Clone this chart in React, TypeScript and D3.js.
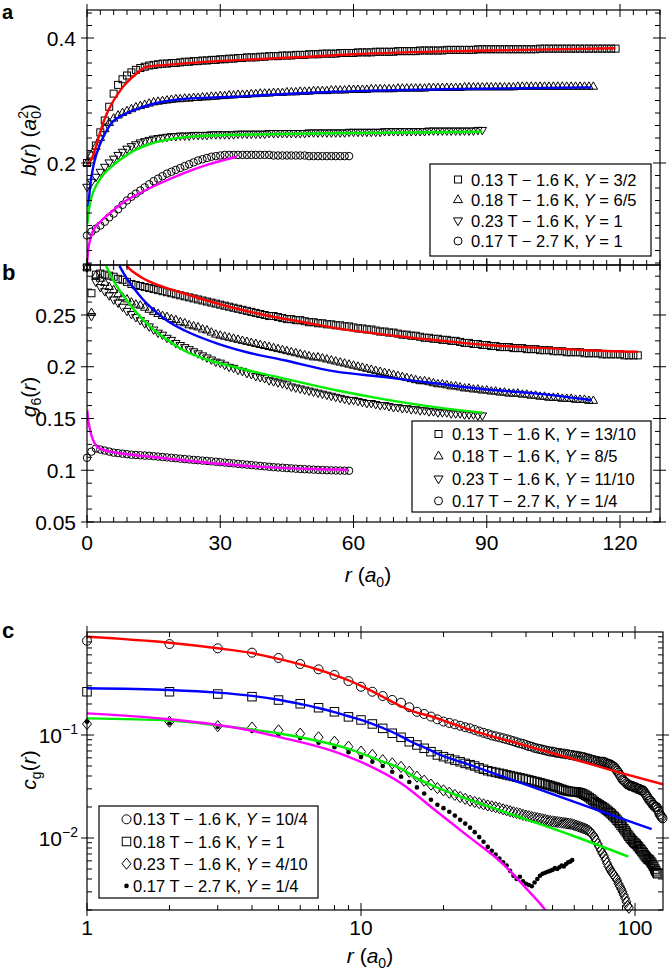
import React from "react";
import * as d3 from "d3";

const FONT = "'Liberation Sans', Arial, Helvetica, sans-serif";

// ---------- Panel a : b(r), r = 0,1,2,... ----------
const aSquares = [0.200,0.212,0.228,0.249,0.268,0.290,0.311,0.325,0.334,0.340,
0.345,0.349,0.352,0.354,0.356,0.357,0.358,0.359,0.359,0.360,
0.360,0.361,0.362,0.362,0.363,0.363,0.364,0.364,0.365,0.365,
0.366,0.366,0.367,0.367,0.368,0.368,0.369,0.369,0.369,0.370,
0.370,0.371,0.371,0.371,0.372,0.372,0.372,0.373,0.373,0.373,
0.374,0.374,0.374,0.375,0.375,0.375,0.375,0.376,0.376,0.376,
0.376,0.377,0.377,0.377,0.377,0.378,0.378,0.378,0.378,0.378,
0.379,0.379,0.379,0.379,0.379,0.380,0.380,0.380,0.380,0.380,
0.380,0.381,0.381,0.381,0.381,0.381,0.381,0.381,0.382,0.382,
0.382,0.382,0.382,0.382,0.382,0.382,0.382,0.382,0.382,0.382,
0.382,0.382,0.383,0.383,0.383,0.383,0.383,0.383,0.383,0.383,
0.383,0.383,0.383,0.383,0.383,0.383,0.383,0.383,0.383,0.383];
const aTriangles = [0.200,0.212,0.226,0.240,0.254,0.264,0.271,0.276,0.280,0.283,
0.286,0.289,0.291,0.293,0.295,0.297,0.298,0.299,0.300,0.301,
0.302,0.302,0.303,0.303,0.304,0.304,0.305,0.305,0.306,0.306,
0.307,0.307,0.308,0.308,0.309,0.309,0.309,0.310,0.310,0.311,
0.311,0.311,0.312,0.312,0.312,0.313,0.313,0.313,0.314,0.314,
0.314,0.315,0.315,0.315,0.315,0.316,0.316,0.316,0.316,0.317,
0.317,0.317,0.317,0.317,0.318,0.318,0.318,0.318,0.318,0.318,
0.319,0.319,0.319,0.319,0.319,0.319,0.319,0.320,0.320,0.320,
0.320,0.320,0.320,0.320,0.320,0.321,0.321,0.321,0.321,0.321,
0.321,0.321,0.321,0.321,0.321,0.321,0.321,0.322,0.322,0.322,
0.322,0.322,0.322,0.322,0.322,0.322,0.322,0.322,0.322,0.322,
0.322,0.322,0.322,0.322,0.322];
const aDownTriangles = [0.162,0.170,0.178,0.186,0.194,0.201,0.207,0.213,0.218,0.223,
0.227,0.230,0.233,0.235,0.237,0.239,0.240,0.241,0.242,0.243,
0.243,0.244,0.244,0.244,0.245,0.245,0.245,0.245,0.246,0.246,
0.246,0.246,0.246,0.246,0.247,0.247,0.247,0.247,0.247,0.247,
0.247,0.248,0.248,0.248,0.248,0.248,0.248,0.248,0.248,0.248,
0.249,0.249,0.249,0.249,0.249,0.249,0.249,0.249,0.249,0.250,
0.250,0.250,0.250,0.250,0.250,0.250,0.250,0.251,0.251,0.251,
0.251,0.251,0.251,0.251,0.251,0.251,0.251,0.252,0.252,0.252,
0.252,0.252,0.252,0.252,0.252,0.252,0.252,0.252,0.253,0.253];
const aCircles = [0.084,0.090,0.095,0.100,0.106,0.113,0.119,0.126,0.133,0.140,
0.146,0.151,0.156,0.161,0.166,0.171,0.175,0.179,0.183,0.186,
0.189,0.192,0.195,0.198,0.201,0.204,0.206,0.208,0.210,0.211,
0.212,0.213,0.213,0.213,0.213,0.213,0.213,0.213,0.213,0.213,
0.213,0.213,0.212,0.212,0.212,0.212,0.212,0.212,0.212,0.212,
0.211,0.211,0.211,0.211,0.211,0.211,0.211,0.211,0.211,0.211];
const aRedFit: [number, number][] = [[0.2,0.198],[1,0.206],[2,0.226],[3,0.250],[4,0.271],[5,0.287],[6,0.300],[7,0.311],[8,0.321],[9,0.329],[10,0.336],[11,0.342],[12,0.348],[13.4,0.354],[18,0.357],[25,0.361],[35,0.365],[50,0.370],[60,0.374],[90,0.380],[119,0.3835]];
const aBlueFit: [number, number][] = [[0.3,0.130],[0.7,0.162],[1.4,0.194],[2.2,0.2155],[3.7,0.242],[5.2,0.261],[8.2,0.277],[12.7,0.290],[21,0.302],[33,0.306],[55.8,0.314],[80,0.318],[113.5,0.321]];
const aGreenFit: [number, number][] = [[0.1,0.103],[0.5,0.128],[1,0.145],[2,0.163],[3,0.175],[5.2,0.192],[8,0.208],[10.4,0.219],[14,0.230],[19.4,0.239],[25,0.243],[40,0.246],[60,0.248],[89,0.250]];
const aMagentaFit: [number, number][] = [[0,0.038],[0.3,0.062],[0.7,0.077],[1.4,0.092],[3,0.106],[5.2,0.120],[8,0.136],[12,0.152],[16,0.166],[21.7,0.1835],[27,0.197],[33.7,0.210]];

// ---------- Panel b : g6(r), r = 0,1,2,... ----------
const bSquares = [0.296,0.271,
0.289,0.290,0.289,0.288,0.287,0.285,0.284,0.282,0.280,
0.279,0.278,0.277,0.276,0.275,0.274,0.273,0.272,0.271,0.270,
0.269,0.268,0.267,0.266,0.265,0.264,0.263,0.262,0.261,0.260,
0.259,0.258,0.257,0.256,0.255,0.254,0.253,0.252,0.251,0.250,
0.249,0.249,0.248,0.247,0.246,0.246,0.245,0.245,0.244,0.243,
0.243,0.242,0.242,0.241,0.241,0.240,0.240,0.239,0.239,0.238,
0.237,0.237,0.236,0.236,0.235,0.234,0.234,0.233,0.233,0.232,
0.231,0.231,0.230,0.230,0.229,0.228,0.228,0.227,0.227,0.226,
0.226,0.225,0.225,0.224,0.223,0.223,0.222,0.222,0.221,0.221,
0.220,0.220,0.219,0.219,0.219,0.218,0.218,0.218,0.217,0.217,
0.217,0.216,0.216,0.216,0.215,0.215,0.215,0.214,0.214,0.214,
0.214,0.213,0.213,0.213,0.213,0.212,0.212,0.212,0.212,0.212,
0.211,0.211,0.211,0.211];
const bTriangles = [0.296,0.252,
0.288,0.285,0.281,0.277,0.274,0.270,0.267,0.265,0.262,
0.260,0.259,0.257,0.255,0.253,0.251,0.249,0.248,0.246,0.245,
0.243,0.242,0.240,0.239,0.238,0.236,0.235,0.233,0.231,0.230,
0.229,0.228,0.227,0.226,0.225,0.224,0.223,0.222,0.221,0.220,
0.219,0.218,0.217,0.216,0.215,0.214,0.213,0.212,0.211,0.210,
0.209,0.209,0.208,0.207,0.206,0.205,0.204,0.203,0.202,0.201,
0.200,0.199,0.198,0.197,0.196,0.195,0.194,0.193,0.192,0.191,
0.190,0.189,0.188,0.187,0.186,0.186,0.185,0.184,0.183,0.183,
0.182,0.181,0.181,0.180,0.179,0.179,0.178,0.178,0.177,0.177,
0.176,0.176,0.175,0.175,0.174,0.174,0.174,0.173,0.173,0.172,
0.172,0.171,0.171,0.170,0.170,0.170,0.169,0.169,0.169,0.168,
0.168,0.168,0.167,0.167];
const bDownTriangles = [0.296,0.249,
0.282,0.277,0.273,0.269,0.265,0.262,0.258,0.254,0.251,
0.248,0.245,0.242,0.239,0.236,0.233,0.231,0.228,0.226,0.223,
0.221,0.219,0.217,0.215,0.213,0.211,0.209,0.207,0.205,0.204,
0.202,0.200,0.199,0.197,0.196,0.194,0.193,0.191,0.190,0.189,
0.187,0.186,0.185,0.184,0.183,0.181,0.180,0.179,0.178,0.177,
0.176,0.175,0.174,0.173,0.172,0.171,0.170,0.169,0.168,0.168,
0.167,0.166,0.165,0.165,0.164,0.163,0.163,0.162,0.161,0.161,
0.160,0.160,0.159,0.159,0.158,0.158,0.157,0.157,0.156,0.156,
0.156,0.155,0.155,0.155,0.154,0.154,0.154,0.153,0.153];
const bCircles = [0.112,0.118,0.121,0.120,0.119,0.118,0.117,0.1165,0.116,0.1155,
0.115,0.1148,0.1145,0.1142,0.114,0.1136,0.1132,0.1128,0.1124,0.112,
0.1116,0.1112,0.1108,0.1104,0.110,0.1097,0.1093,0.109,0.1086,0.1082,
0.1078,0.1074,0.107,0.1066,0.1062,0.1058,0.1054,0.105,0.1046,0.1042,
0.1038,0.1034,0.103,0.1027,0.1024,0.1021,0.1018,0.1015,0.1012,0.101,
0.1008,0.1006,0.1004,0.1002,0.100,0.0999,0.0998,0.0997,0.0996,0.0995];
const bRedFit: [number, number][] = [[8.9,0.2975],[10,0.293],[12,0.287],[14.2,0.282],[18,0.276],[21.7,0.271],[27,0.264],[32.9,0.257],[40,0.250],[50,0.242],[55.8,0.2375],[67,0.231],[78.3,0.2258],[90,0.221],[100.8,0.2185],[112,0.216],[124,0.2145]];
const bBlueFit: [number, number][] = [[7.3,0.2975],[9,0.285],[10.5,0.276],[12.7,0.2645],[15,0.255],[17.9,0.245],[22,0.235],[29.2,0.2226],[36,0.214],[44.2,0.2065],[55.8,0.1955],[67,0.190],[78.3,0.184],[90,0.178],[100.8,0.1743],[113.5,0.1678]];
const bGreenFit: [number, number][] = [[4.3,0.2975],[6,0.283],[7,0.276],[8.9,0.2645],[11,0.253],[14.2,0.2387],[18,0.226],[21.7,0.216],[27,0.207],[33,0.200],[44.2,0.1887],[55.8,0.1775],[67,0.1685],[78.3,0.161],[89,0.1555]];
const bMagentaFit: [number, number][] = [[0.05,0.158],[0.3,0.148],[0.7,0.139],[1.2,0.131],[2.2,0.123],[3.5,0.120],[5.2,0.118],[8,0.116],[14.2,0.113],[25.4,0.108],[40.4,0.103],[55.8,0.1007],[58.8,0.1003]];

// ---------- Panel c : cg(r), r = 1,2,3,... ----------
const cCircles = [0.823,0.764,0.695,0.630,0.560,0.489,0.434,0.383,0.334,0.294,
0.263,0.239,0.219,0.206,0.186,0.168,0.160,0.151,0.142,0.135,
0.131,0.127,0.123,0.119,0.116,0.112,0.108,0.105,0.102,0.099,
0.097,0.095,0.093,0.091,0.089,0.087,0.085,0.083,0.082,0.080,
0.078,0.077,0.075,0.074,0.073,0.072,0.071,0.070,0.069,0.069,
0.068,0.067,0.067,0.066,0.066,0.065,0.065,0.064,0.064,0.063,
0.063,0.062,0.062,0.061,0.061,0.060,0.059,0.059,0.058,0.057,
0.057,0.056,0.056,0.055,0.055,0.055,0.055,0.054,0.053,0.0525,
0.052,0.051,0.050,0.049,0.047,0.045,0.043,0.041,0.039,0.037,
0.036,0.035,0.034,0.033,0.033,0.032,0.032,0.032,0.031,0.031,
0.031,0.030,0.030,0.030,0.029,0.029,0.029,0.028,0.027,0.026,
0.025,0.024,0.023,0.023,0.022,0.021,0.021,0.020,0.020,0.020,
0.019,0.018,0.017,0.0165,0.016,0.0155];
const cSquares = [0.263,0.263,0.250,0.2355,0.2185,0.201,0.184,0.168,0.150,0.140,
0.128,0.116,0.104,0.095,0.086,0.080,0.0743,0.0689,0.064,0.0616,
0.059,0.057,0.055,0.053,0.0515,0.050,0.048,0.0465,0.045,0.0441,
0.0433,0.0425,0.0418,0.041,0.0403,0.0396,0.039,0.0384,0.0378,0.0372,
0.0366,0.036,0.0354,0.0349,0.0344,0.0338,0.0333,0.0328,0.0323,0.0318,
0.0313,0.0308,0.0302,0.0297,0.0292,0.0288,0.0285,0.0283,0.0282,0.0281,
0.028,0.0278,0.0275,0.0271,0.0266,0.026,0.0254,0.0247,0.024,0.0233,
0.0226,0.022,0.0215,0.021,0.0205,0.0201,0.0196,0.0191,0.0186,0.0181,
0.0176,0.0171,0.0165,0.016,0.0155,0.0149,0.0144,0.0139,0.0133,0.0128,
0.0123,0.0118,0.0113,0.0108,0.0104,0.0100,0.0097,0.0094,0.0091,0.0089,
0.0087,0.0084,0.0082,0.0079,0.0077,0.0074,0.0072,0.0069,0.0067,0.0065,
0.0063,0.0062,0.0061,0.0059,0.0057,0.0055,0.0053,0.0050,0.0048,0.0046,0.0045];
const cDiamonds = [0.128,0.1346,0.122,0.118,0.111,0.103,0.095,0.086,0.077,0.069,
0.064,0.057,0.053,0.049,0.044,0.0394,0.036,0.033,0.0305,0.029,
0.0275,0.0262,0.025,0.024,0.0230,0.0224,0.0218,0.0212,0.0207,0.0203,
0.0199,0.0195,0.0190,0.0186,0.0182,0.0178,0.0175,0.0172,0.0168,0.0165,
0.0163,0.016,0.0158,0.0156,0.0154,0.0152,0.015,0.0148,0.0146,0.0145,
0.0144,0.0143,0.0142,0.0141,0.014,0.0139,0.0138,0.0137,0.0136,0.0134,
0.0132,0.013,0.0128,0.0126,0.0124,0.0122,0.012,0.0117,0.0113,0.0108,
0.0102,0.0095,0.0088,0.0082,0.0076,0.0071,0.0067,0.0062,0.0057,0.0053,
0.005,0.0047,0.0045,0.0043,0.0041,0.0039,0.0036,0.0034,0.0032,0.003,
0.0028,0.0026,0.0024,0.0022,0.0021];
const cDots = [0.1346,0.130,0.120,0.110,0.101,0.093,0.084,0.076,0.068,0.061,
0.055,0.050,0.044,0.0394,0.035,0.031,0.027,0.0235,0.021,0.0195,
0.018,0.0165,0.015,0.0138,0.0126,0.0114,0.0102,0.0092,0.0082,0.0075,
0.0069,0.0063,0.0058,0.0054,0.0048,0.0043,0.0040,0.0042,0.0038,0.0036,
0.0035,0.0034,0.0037,0.0040,0.0043,0.0045,0.0046,0.0047,0.0048,0.0049,
0.0051,0.0050,0.0052,0.0054,0.0053,0.0056,0.0058,0.0059,0.0061];
const cRedFit: [number, number][] = [[1,0.90],[2,0.787],[3,0.695],[4,0.625],[5,0.548],[6,0.485],[7,0.43],[8,0.382],[9,0.34],[10,0.30],[11,0.265],[12,0.235],[13,0.21],[14,0.19],[15,0.175],[16,0.165],[18,0.152],[20,0.138],[25,0.112],[35,0.087],[50,0.0665],[70,0.0515],[90,0.0425],[126.5,0.0332]];
const cBlueFit: [number, number][] = [[1,0.284],[2,0.2735],[3,0.258],[4,0.240],[5,0.220],[6,0.200],[7,0.183],[8,0.167],[9,0.152],[10,0.140],[11,0.128],[12,0.117],[13,0.107],[14,0.097],[15,0.088],[16,0.081],[17,0.076],[19,0.066],[25,0.0512],[35,0.0373],[50,0.0267],[70,0.0194],[90,0.0153],[115,0.0122]];
const cGreenFit: [number, number][] = [[1,0.145],[2,0.138],[3,0.124],[4,0.113],[5,0.104],[6.7,0.0894],[8.9,0.0743],[11.6,0.057],[14.3,0.0457],[15.7,0.039],[18.6,0.0315],[25,0.0234],[40,0.0152],[60,0.0104],[94.6,0.0066]];
const cMagentaFit: [number, number][] = [[1,0.162],[2,0.142],[3,0.125],[4,0.110],[5,0.096],[8,0.069],[10.6,0.051],[14,0.034],[18.6,0.0187],[24.7,0.0103],[32.7,0.0057],[40.7,0.0031],[47,0.0020],[49,0.0017]];

// ---------- ticks & legends ----------
const abMajorX = [0, 30, 60, 90, 120];
const aMajorY = [0.2, 0.4];
const bMajorY = [0.05, 0.1, 0.15, 0.2, 0.25];
const bYLabels = ["0.05", "0.1", "0.15", "0.2", "0.25"];
const cMajorX = [1, 10, 100];
const cXLabels = ["1", "10", "100"];
const cMajorY = [0.01, 0.1];
const cYExponents = ["\u22122", "\u22121"];
const legendFields = ["0.13 T \u2212 1.6 K", "0.18 T \u2212 1.6 K", "0.23 T \u2212 1.6 K", "0.17 T \u2212 2.7 K"];
const legendYA = ["3/2", "6/5", "1", "1"];
const legendYB = ["13/10", "8/5", "11/10", "1/4"];
const legendYC = ["10/4", "1", "4/10", "1/4"];

// ---------- layout ----------
const L = 87, R = 660;
const aTop = 10, aBot = 265, bBot = 522;
const cL = 87, cR = 663, cTop = 632, cBot = 910;
const TICK_FS = 21;
const LEG_FS = 16.5;

const xAB = d3.scaleLinear().domain([0, 129]).range([L, R]);
const yA = d3.scaleLinear().domain([0.0368, 0.4448]).range([aBot, aTop]);
const yB = d3.scaleLinear().domain([0.05, 0.2983]).range([bBot, aBot]);
const xC = d3.scaleLog().domain([1, 126.5]).range([cL, cR]);
const yC = d3.scaleLog().domain([0.002, 1]).range([cBot, cTop]);

type Shape = "square" | "tri" | "itri" | "circle" | "diamond" | "dot";

function Marker({ shape, x, y, s }: { shape: Shape; x: number; y: number; s: number }) {
  const st = { fill: "none", stroke: "#000", strokeWidth: 1 };
  if (shape === "square") return <rect x={x - s / 2} y={y - s / 2} width={s} height={s} {...st} />;
  if (shape === "circle") return <circle cx={x} cy={y} r={s / 2} {...st} />;
  if (shape === "dot") return <circle cx={x} cy={y} r={s / 2} fill="#000" />;
  if (shape === "diamond") {
    const h = s * 0.62;
    return <path d={`M${x},${y - h}L${x + s / 2},${y}L${x},${y + h}L${x - s / 2},${y}Z`} {...st} />;
  }
  const h = s * 0.87;
  if (shape === "tri")
    return <path d={`M${x},${y - (2 * h) / 3}L${x + s / 2},${y + h / 3}L${x - s / 2},${y + h / 3}Z`} {...st} />;
  return <path d={`M${x},${y + (2 * h) / 3}L${x + s / 2},${y - h / 3}L${x - s / 2},${y - h / 3}Z`} {...st} />;
}

function Series({ values, start, shape, s, xs, ys }: any) {
  return (
    <g>
      {values.map((v: number, i: number) => (
        <Marker key={i} shape={shape} x={xs(i + start)} y={ys(v)} s={s} />
      ))}
    </g>
  );
}

function Fit({ pts, color, xs, ys, clip }: any) {
  const line = d3
    .line<[number, number]>()
    .x((d) => xs(d[0]))
    .y((d) => ys(d[1]))
    .curve(d3.curveMonotoneX);
  return <path d={line(pts) || ""} fill="none" stroke={color} strokeWidth={2.4} clipPath={`url(#${clip})`} />;
}

function tickSet(side: string, pos: number[], x0: number, x1: number, y0: number, y1: number, major: boolean, k: string) {
  const len = major ? 7 : 5;
  const out = major ? 6 : 0;
  return pos.map((p, i) => {
    let a;
    if (side === "left") a = { x1: x0 - out, x2: x0 + len, y1: p, y2: p };
    else if (side === "right") a = { x1: x1 - len, x2: x1 + out, y1: p, y2: p };
    else if (side === "top") a = { x1: p, x2: p, y1: y0 - out, y2: y0 + len };
    else a = { x1: p, x2: p, y1: y1 - len, y2: y1 + out };
    return <line key={k + side + i} {...a} stroke="#000" strokeWidth={1} />;
  });
}

function Frame({ x0, x1, y0, y1, xMaj, xMin, yMaj, yMin, k }: any) {
  const out: any[] = [];
  out.push(<rect key={k + "f"} x={x0} y={y0} width={x1 - x0} height={y1 - y0} fill="none" stroke="#000" strokeWidth={1.2} />);
  for (const side of ["top", "bottom"]) {
    out.push(...tickSet(side, xMaj, x0, x1, y0, y1, true, k + "M"));
    out.push(...tickSet(side, xMin, x0, x1, y0, y1, false, k + "m"));
  }
  for (const side of ["left", "right"]) {
    out.push(...tickSet(side, yMaj, x0, x1, y0, y1, true, k + "M"));
    out.push(...tickSet(side, yMin, x0, x1, y0, y1, false, k + "m"));
  }
  return <g>{out}</g>;
}

function Legend({ x, y, w, h, rowY, mx, tx, shapes, sizes, ys }: any) {
  return (
    <g>
      <rect x={x} y={y} width={w} height={h} fill="#fff" stroke="#000" strokeWidth={1.2} />
      {legendFields.map((f, i) => (
        <g key={i}>
          <Marker shape={shapes[i]} x={mx} y={rowY[i]} s={sizes[i]} />
          <text x={tx} y={rowY[i] + 6} fontSize={LEG_FS} fontFamily={FONT}>
            {f}, <tspan fontStyle="italic">Y</tspan> = {ys[i]}
          </text>
        </g>
      ))}
    </g>
  );
}

export default function App() {
  const abMinX = d3.range(0, 130, 3).filter((v) => v % 30 !== 0).map((v) => xAB(v));
  const abMajX = abMajorX.map((v) => xAB(v));
  const aMinY = d3.range(2, 23).map((k) => k * 0.02).filter((v) => Math.abs(v - 0.2) > 1e-6 && Math.abs(v - 0.4) > 1e-6).map((v) => yA(v));
  const bMinY = d3.range(4, 24).map((k) => k * 0.0125).filter((v) => v > 0.05 && v < 0.2983 && Math.abs((v * 20) - Math.round(v * 20)) > 1e-6).map((v) => yB(v));
  const cMinXv: number[] = [];
  [1, 10, 100].forEach((d) => [2, 3, 4, 5, 6, 7, 8, 9].forEach((m) => { if (d * m < 126.5) cMinXv.push(d * m); }));
  const cMinYv: number[] = [];
  [0.001, 0.01, 0.1].forEach((d) => [2, 3, 4, 5, 6, 7, 8, 9].forEach((m) => { const v = d * m; if (v >= 0.002 - 1e-9 && v < 1) cMinYv.push(v); }));

  const rowsA = [179.5, 200, 220.5, 241];
  const rowsB = [434, 456.3, 478.6, 500.9];
  const rowsC = [819.3, 841.5, 863.7, 885.9];

  return (
    <svg width={670} height={972} style={{ position: "absolute", left: 0, top: 0, background: "#fff" }} fontFamily={FONT}>
      <defs>
        <clipPath id="clipA"><rect x={L} y={aTop} width={R - L} height={aBot - aTop} /></clipPath>
        <clipPath id="clipB"><rect x={L} y={aBot} width={R - L} height={bBot - aBot} /></clipPath>
        <clipPath id="clipC"><rect x={cL} y={cTop} width={cR - cL} height={cBot - cTop} /></clipPath>
      </defs>
      <rect x={0} y={0} width={670} height={972} fill="#fff" />

      {/* ---------- panel a ---------- */}
      <Series values={aSquares} start={0} shape="square" s={7} xs={xAB} ys={yA} />
      <Series values={aTriangles} start={0} shape="tri" s={8.5} xs={xAB} ys={yA} />
      <Series values={aDownTriangles} start={0} shape="itri" s={8.5} xs={xAB} ys={yA} />
      <Series values={aCircles} start={0} shape="circle" s={7.5} xs={xAB} ys={yA} />
      <Fit pts={aRedFit} color="#ff0000" xs={xAB} ys={yA} clip="clipA" />
      <Fit pts={aBlueFit} color="#0000ff" xs={xAB} ys={yA} clip="clipA" />
      <Fit pts={aGreenFit} color="#00ee00" xs={xAB} ys={yA} clip="clipA" />
      <Fit pts={aMagentaFit} color="#ff00ff" xs={xAB} ys={yA} clip="clipA" />
      <Frame x0={L} x1={R} y0={aTop} y1={aBot} xMaj={abMajX} xMin={abMinX} yMaj={aMajorY.map((v) => yA(v))} yMin={aMinY} k="a" />
      {aMajorY.map((v) => (
        <text key={v} x={76} y={yA(v)} dy="0.36em" textAnchor="end" fontSize={TICK_FS}>{String(v)}</text>
      ))}
      <text transform={`translate(36,140) rotate(-90)`} textAnchor="middle" fontSize={TICK_FS}>
        <tspan fontStyle="italic">b</tspan>(<tspan fontStyle="italic">r</tspan>) (<tspan fontStyle="italic">a</tspan>
        <tspan fontSize={14} dy={5}>0</tspan>
        <tspan fontSize={14} dx={-7.8} dy={-13}>2</tspan>
        <tspan dy={8}>)</tspan>
      </text>
      <Legend x={430} y={164} w={221} h={92} rowY={rowsA} mx={458} tx={471} shapes={["square", "tri", "itri", "circle"]} sizes={[7, 9, 9, 8]} ys={legendYA} />
      <text x={2} y={19} fontSize={20} fontWeight="bold">a</text>

      {/* ---------- panel b ---------- */}
      <Series values={bSquares} start={0} shape="square" s={7} xs={xAB} ys={yB} />
      <Series values={bTriangles} start={0} shape="tri" s={8.5} xs={xAB} ys={yB} />
      <Series values={bDownTriangles} start={0} shape="itri" s={8.5} xs={xAB} ys={yB} />
      <Series values={bCircles} start={0} shape="circle" s={7.5} xs={xAB} ys={yB} />
      <Fit pts={bRedFit} color="#ff0000" xs={xAB} ys={yB} clip="clipB" />
      <Fit pts={bBlueFit} color="#0000ff" xs={xAB} ys={yB} clip="clipB" />
      <Fit pts={bGreenFit} color="#00ee00" xs={xAB} ys={yB} clip="clipB" />
      <Fit pts={bMagentaFit} color="#ff00ff" xs={xAB} ys={yB} clip="clipB" />
      <Frame x0={L} x1={R} y0={aBot} y1={bBot} xMaj={abMajX} xMin={abMinX} yMaj={bMajorY.map((v) => yB(v))} yMin={bMinY} k="b" />
      {bMajorY.map((v, i) => (
        <text key={v} x={76} y={yB(v)} dy="0.36em" textAnchor="end" fontSize={TICK_FS}>{bYLabels[i]}</text>
      ))}
      {abMajorX.map((v) => (
        <text key={v} x={xAB(v)} y={550} textAnchor="middle" fontSize={TICK_FS}>{String(v)}</text>
      ))}
      <text x={368} y={582} textAnchor="middle" fontSize={TICK_FS}>
        <tspan fontStyle="italic">r</tspan> (<tspan fontStyle="italic">a</tspan><tspan fontSize={14} dy={5}>0</tspan><tspan dy={-5}>)</tspan>
      </text>
      <text transform={`translate(36,397) rotate(-90)`} textAnchor="middle" fontSize={TICK_FS}>
        <tspan fontStyle="italic">g</tspan><tspan fontSize={14} dy={5}>6</tspan><tspan dy={-5}>(</tspan><tspan fontStyle="italic">r</tspan>)
      </text>
      <Legend x={412} y={421} w={239} h={91} rowY={rowsB} mx={438.5} tx={452} shapes={["square", "tri", "itri", "circle"]} sizes={[7, 9, 9, 8]} ys={legendYB} />
      <text x={2} y={280} fontSize={22} fontWeight="bold">b</text>

      {/* ---------- panel c ---------- */}
      <Series values={cCircles} start={1} shape="circle" s={9} xs={xC} ys={yC} />
      <Series values={cSquares} start={1} shape="square" s={8.5} xs={xC} ys={yC} />
      <Series values={cDiamonds} start={1} shape="diamond" s={9} xs={xC} ys={yC} />
      <Series values={cDots} start={1} shape="dot" s={4.6} xs={xC} ys={yC} />
      <Fit pts={cRedFit} color="#ff0000" xs={xC} ys={yC} clip="clipC" />
      <Fit pts={cBlueFit} color="#0000ff" xs={xC} ys={yC} clip="clipC" />
      <Fit pts={cGreenFit} color="#00ee00" xs={xC} ys={yC} clip="clipC" />
      <Fit pts={cMagentaFit} color="#ff00ff" xs={xC} ys={yC} clip="clipC" />
      <Frame x0={cL} x1={cR} y0={cTop} y1={cBot} xMaj={cMajorX.map((v) => xC(v))} xMin={cMinXv.map((v) => xC(v))} yMaj={cMajorY.map((v) => yC(v))} yMin={cMinYv.map((v) => yC(v))} k="c" />
      {cMajorY.map((v, i) => (
        <text key={v} x={78} y={yC(v)} dy="0.36em" textAnchor="end" fontSize={TICK_FS}>
          10<tspan fontSize={14} dy={-9}>{cYExponents[i]}</tspan>
        </text>
      ))}
      {cMajorX.map((v, i) => (
        <text key={v} x={xC(v)} y={935} textAnchor="middle" fontSize={TICK_FS}>{cXLabels[i]}</text>
      ))}
      <text x={370} y={963} textAnchor="middle" fontSize={TICK_FS}>
        <tspan fontStyle="italic">r</tspan> (<tspan fontStyle="italic">a</tspan><tspan fontSize={14} dy={5}>0</tspan><tspan dy={-5}>)</tspan>
      </text>
      <text transform={`translate(36,770) rotate(-90)`} textAnchor="middle" fontSize={TICK_FS}>
        <tspan fontStyle="italic">c</tspan><tspan fontSize={14} dy={5}>g</tspan><tspan dy={-5}>(</tspan><tspan fontStyle="italic">r</tspan>)
      </text>
      <Legend x={99} y={806} w={219} h={92} rowY={rowsC} mx={126.5} tx={133} shapes={["circle", "square", "diamond", "dot"]} sizes={[9, 8.5, 9, 4.6]} ys={legendYC} />
      <text x={2} y={638} fontSize={22} fontWeight="bold">c</text>
    </svg>
  );
}
